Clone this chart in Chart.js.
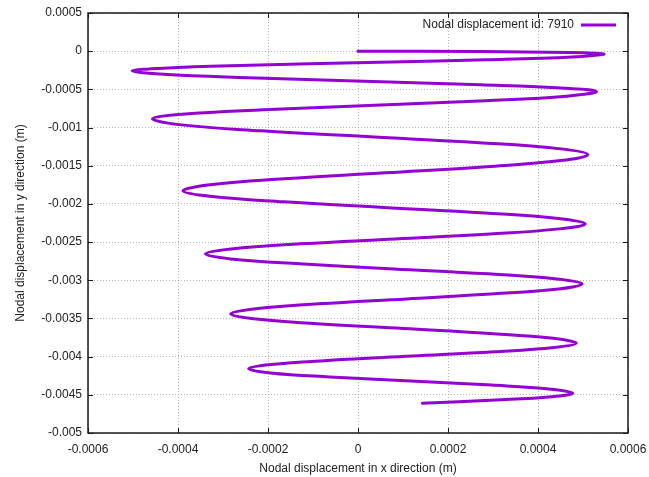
<!DOCTYPE html>
<html>
<head>
<meta charset="utf-8">
<script src="https://cdn.jsdelivr.net/npm/chart.js@4.4.1/dist/chart.umd.min.js"></script>
<style>
  html, body { margin: 0; padding: 0; background: #fff; }
  #wrap { width: 649px; height: 477px; }
</style>
</head>
<body>
<div id="wrap"><canvas id="disp"></canvas></div>
<script>
"use strict";

const SERIES_LABEL = 'Nodal displacement id: 7910';
const LINE_COLOR = 'rgb(148, 0, 211)';

// node trajectory (x, y in metres)
const dispX = [
    0, 0.000273, 0.000473, 0.000527, 0.000546,
    0.000476, 0.000284, 0.000022, -0.00024, -0.000432, -0.000502,
    -0.000433, -0.000244, 0.000014, 0.000272, 0.000461, 0.00053,
    0.000464, 0.000284, 0.000037, -0.00021, -0.000391, -0.000457,
    -0.000392, -0.000215, 0.000027, 0.000269, 0.000446, 0.000511,
    0.000451, 0.000286, 0.000061, -0.000164, -0.000329, -0.000389,
    -0.000329, -0.000166, 0.000058, 0.000282, 0.000445, 0.000505,
    0.000448, 0.000294, 0.000083, -0.000128, -0.000282, -0.000339,
    -0.000283, -0.00013, 0.00008, 0.000289, 0.000442, 0.000498,
    0.000446, 0.000303, 0.000108, -0.000088, -0.000231, -0.000283,
    -0.000232, -0.000091, 0.000101, 0.000293, 0.000434, 0.000485,
    0.000436, 0.000303, 0.000121, -0.000061, -0.000194, -0.000243,
    -0.000195, -0.000063, 0.000117, 0.000297, 0.000429, 0.000477,
    0.000431, 0.000305, 0.000143
];
const dispY = [
    0, -0.000005, -0.000017, -0.000027, -0.00004,
    -0.000076, -0.000113, -0.000149, -0.000185, -0.000222, -0.000258,
    -0.000303, -0.000348, -0.000394, -0.000439, -0.000484, -0.000529,
    -0.000589, -0.000648, -0.000708, -0.000768, -0.000827, -0.000887,
    -0.000965, -0.001043, -0.001121, -0.001198, -0.001276, -0.001354,
    -0.001433, -0.001512, -0.001592, -0.001671, -0.00175, -0.001829,
    -0.001901, -0.001973, -0.002046, -0.002118, -0.00219, -0.002262,
    -0.002327, -0.002393, -0.002458, -0.002523, -0.002589, -0.002654,
    -0.00272, -0.002785, -0.002851, -0.002916, -0.002982, -0.003047,
    -0.003113, -0.003178, -0.003244, -0.003309, -0.003375, -0.00344,
    -0.003504, -0.003568, -0.003632, -0.003696, -0.00376, -0.003824,
    -0.00388, -0.003936, -0.003992, -0.004048, -0.004104, -0.00416,
    -0.004213, -0.004266, -0.00432, -0.004373, -0.004426, -0.004479,
    -0.004524, -0.004568, -0.00461
];

const xTicks = [-0.0006, -0.0004, -0.0002, 0, 0.0002, 0.0004, 0.0006];
const xTickLabels = ['-0.0006', '-0.0004', '-0.0002', '0', '0.0002', '0.0004', '0.0006'];
const yTicks = [0.0005, 0, -0.0005, -0.001, -0.0015, -0.002, -0.0025, -0.003, -0.0035, -0.004, -0.0045, -0.005];
const yTickLabels = ['0.0005', '0', '-0.0005', '-0.001', '-0.0015', '-0.002', '-0.0025', '-0.003', '-0.0035', '-0.004', '-0.0045', '-0.005'];

const FONT = { family: '"Liberation Sans", Arial, sans-serif', size: 12 };

// gnuplot style frame, inward ticks on all four sides and the key inside the plot
const gnuplotFrame = {
    id: 'gnuplotFrame',
    afterDraw(chart) {
        const c = chart.ctx;
        const a = chart.chartArea;
        const sx = chart.scales.x, sy = chart.scales.y;
        const TL = 5;
        c.save();
        c.strokeStyle = '#1a1a1a';
        c.lineWidth = 1.5;
        c.strokeRect(a.left, a.top, a.right - a.left, a.bottom - a.top);
        c.lineWidth = 1;
        c.beginPath();
        xTicks.forEach(v => {
            const px = Math.round(sx.getPixelForValue(v)) + 0.5;
            c.moveTo(px, a.bottom); c.lineTo(px, a.bottom - TL);
            c.moveTo(px, a.top); c.lineTo(px, a.top + TL);
        });
        yTicks.forEach(v => {
            const py = Math.round(sy.getPixelForValue(v)) + 0.5;
            c.moveTo(a.left, py); c.lineTo(a.left + TL, py);
            c.moveTo(a.right, py); c.lineTo(a.right - TL, py);
        });
        c.stroke();

        // key
        const ky = a.top + 12;
        c.font = FONT.size + 'px ' + FONT.family;
        c.fillStyle = '#222';
        c.textAlign = 'right';
        c.textBaseline = 'middle';
        c.fillText(chart.data.datasets[0].label, a.right - 54, ky);
        c.strokeStyle = LINE_COLOR;
        c.lineWidth = 3;
        c.beginPath();
        c.moveTo(a.right - 47, ky);
        c.lineTo(a.right - 12, ky);
        c.stroke();
        c.restore();
    }
};

const ctx = document.getElementById('disp').getContext('2d');
const dispChart = new Chart(ctx, {
    type: 'scatter',
    data: {
        datasets: [{
            label: SERIES_LABEL,
            data: dispX.map((x, i) => ({ x: x, y: dispY[i] })),
            showLine: true,
            borderColor: LINE_COLOR,
            borderWidth: 3,
            borderCapStyle: 'round',
            borderJoinStyle: 'round',
            pointRadius: 0,
            tension: 0.4,
            fill: false
        }]
    },
    options: {
        responsive: true,
        maintainAspectRatio: false,
        animation: false,
        devicePixelRatio: 1,
        layout: {
            padding: { left: 0, right: 21, top: 13, bottom: 0 }
        },
        scales: {
            x: {
                type: 'linear',
                min: -0.0006,
                max: 0.0006,
                afterBuildTicks: (s) => { s.ticks = xTicks.map(v => ({ value: v })); },
                afterFit: (s) => { s.height = 44; s.paddingLeft = 0; s.paddingRight = 0; },
                grid: {
                    color: 'rgba(150, 150, 150, 0.7)',
                    drawTicks: false
                },
                border: { display: false, dash: [1, 2] },
                ticks: {
                    padding: 9,
                    color: '#222',
                    font: FONT,
                    maxRotation: 0,
                    callback: (v, i) => xTickLabels[i]
                },
                title: {
                    display: true,
                    text: 'Nodal displacement in x direction (m)',
                    color: '#222',
                    font: FONT,
                    padding: { top: 0, bottom: 1 }
                }
            },
            y: {
                type: 'linear',
                min: -0.005,
                max: 0.0005,
                afterBuildTicks: (s) => { s.ticks = yTicks.map(v => ({ value: v })); },
                afterFit: (s) => { s.width = 88; s.paddingTop = 0; s.paddingBottom = 0; },
                grid: {
                    color: 'rgba(150, 150, 150, 0.7)',
                    drawTicks: false
                },
                border: { display: false, dash: [1, 2] },
                ticks: {
                    padding: 6,
                    color: '#222',
                    font: FONT,
                    callback: (v, i) => yTickLabels[i]
                },
                title: {
                    display: true,
                    text: 'Nodal displacement in y direction (m)',
                    color: '#222',
                    font: FONT,
                    padding: { top: 13, bottom: 0 }
                }
            }
        },
        plugins: {
            legend: { display: false },
            tooltip: { enabled: false },
            title: { display: false }
        }
    },
    plugins: [gnuplotFrame]
});
</script>
</body>
</html>
